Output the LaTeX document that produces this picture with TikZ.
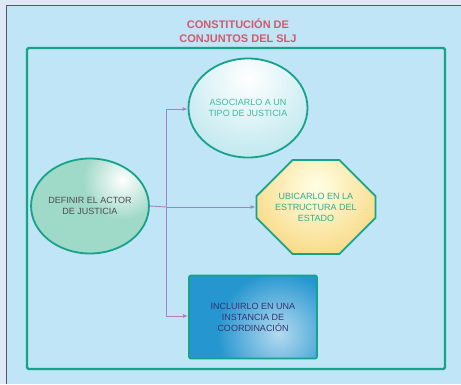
\documentclass[tikz,border=0pt]{standalone}
\usepackage{fontspec}
\setmainfont{Liberation Sans}
\usetikzlibrary{positioning,calc,shapes.misc,shapes.geometric,arrows.meta}

\definecolor{pagebg}{HTML}{DDE9F8}
\definecolor{panel}{HTML}{C0E5F6}
\definecolor{frameteal}{HTML}{17A28A}
\definecolor{titlered}{HTML}{D3586E}
\definecolor{linkpurple}{HTML}{A884BE}
\definecolor{actorfill}{HTML}{9FD9C8}
\definecolor{tipofill}{HTML}{C4EAF0}
\definecolor{estadofill}{HTML}{F8DA86}
\definecolor{coordfill}{HTML}{2596D0}
\definecolor{coordlight}{HTML}{B4DAF0}

\begin{document}
\begin{tikzpicture}
[x=1pt, y=-1pt,
 every node/.style={font=\fontsize{9}{11}\selectfont, align=center},
 blob/.style={draw=frameteal, line width=1.8pt, inner sep=0pt},
 link/.style={draw=linkpurple, line width=0.9pt},
 arr/.style={link, -{Latex[length=5pt,width=4pt]}}]
\useasboundingbox (0,0) rectangle (461,384);
\fill[pagebg] (0,0) rectangle (461,384);
\fill[panel] (6,5) rectangle (461,384);
\draw[black!65, line width=1pt] (6,384) -- (6,5) -- (461,5);

% title and frame
\node[text=titlered, font=\bfseries\fontsize{11}{14}\selectfont] (title) at (238,31)
  {CONSTITUCIÓN DE\\CONJUNTOS DEL SLJ};
\draw[frameteal, line width=2.2pt, rounded corners=1.5pt] (27,48) rectangle (445,369);

% shapes
\node[blob, ellipse, minimum width=106pt, minimum height=95pt, text=black!70,
  path picture={\fill[actorfill] (path picture bounding box.south west) rectangle (path picture bounding box.north east);
    \shade[inner color=white, outer color=actorfill] ($(path picture bounding box.center)!0.55!(path picture bounding box.north east)$) circle (40pt);}]
  (actor) at (90,206) {DEFINIR EL ACTOR\\DE JUSTICIA};
\node[blob, ellipse, minimum width=119pt, minimum height=99pt, text=frameteal!80,
  path picture={\fill[tipofill] (path picture bounding box.south west) rectangle (path picture bounding box.north east);
    \shade[inner color=white, outer color=tipofill] ($(path picture bounding box.center)!0.6!(path picture bounding box.north)$) circle (75pt);}]
  (tipo) at (248,108) {ASOCIARLO A UN\\TIPO DE JUSTICIA};
\node[blob, chamfered rectangle, chamfered rectangle xsep=22pt, chamfered rectangle ysep=22pt,
  minimum width=119pt, minimum height=94pt, text=frameteal!90,
  path picture={\fill[estadofill] (path picture bounding box.south west) rectangle (path picture bounding box.north east);
    \shade[inner color=white!90!yellow, outer color=estadofill] ($(path picture bounding box.center)!0.45!(path picture bounding box.north)$) circle (72pt);}]
  (estado) at (316,207) {UBICARLO EN LA\\ESTRUCTURA DEL\\ESTADO};
\node[blob, rectangle, rounded corners=2pt, minimum width=128pt, minimum height=83pt, text=blue!30!black!80,
  path picture={\fill[coordfill] (path picture bounding box.south west) rectangle (path picture bounding box.north east);
    \shade[inner color=coordlight, outer color=coordfill] ($(path picture bounding box.center)!0.4!(path picture bounding box.south east)$) circle (62pt);}]
  (coord) at (253,317) {INCLUIRLO EN UNA\\INSTANCIA DE\\COORDINACIÓN};

% connectors
\coordinate (split) at (166,207);
\draw[link] (actor.east) -- (split);
\draw[arr] (split) |- ([yshift=-1pt]tipo.west);
\draw[arr] (split) -- (estado.west);
\draw[arr] (split) |- ([yshift=1pt]coord.west);
\end{tikzpicture}
\end{document}
